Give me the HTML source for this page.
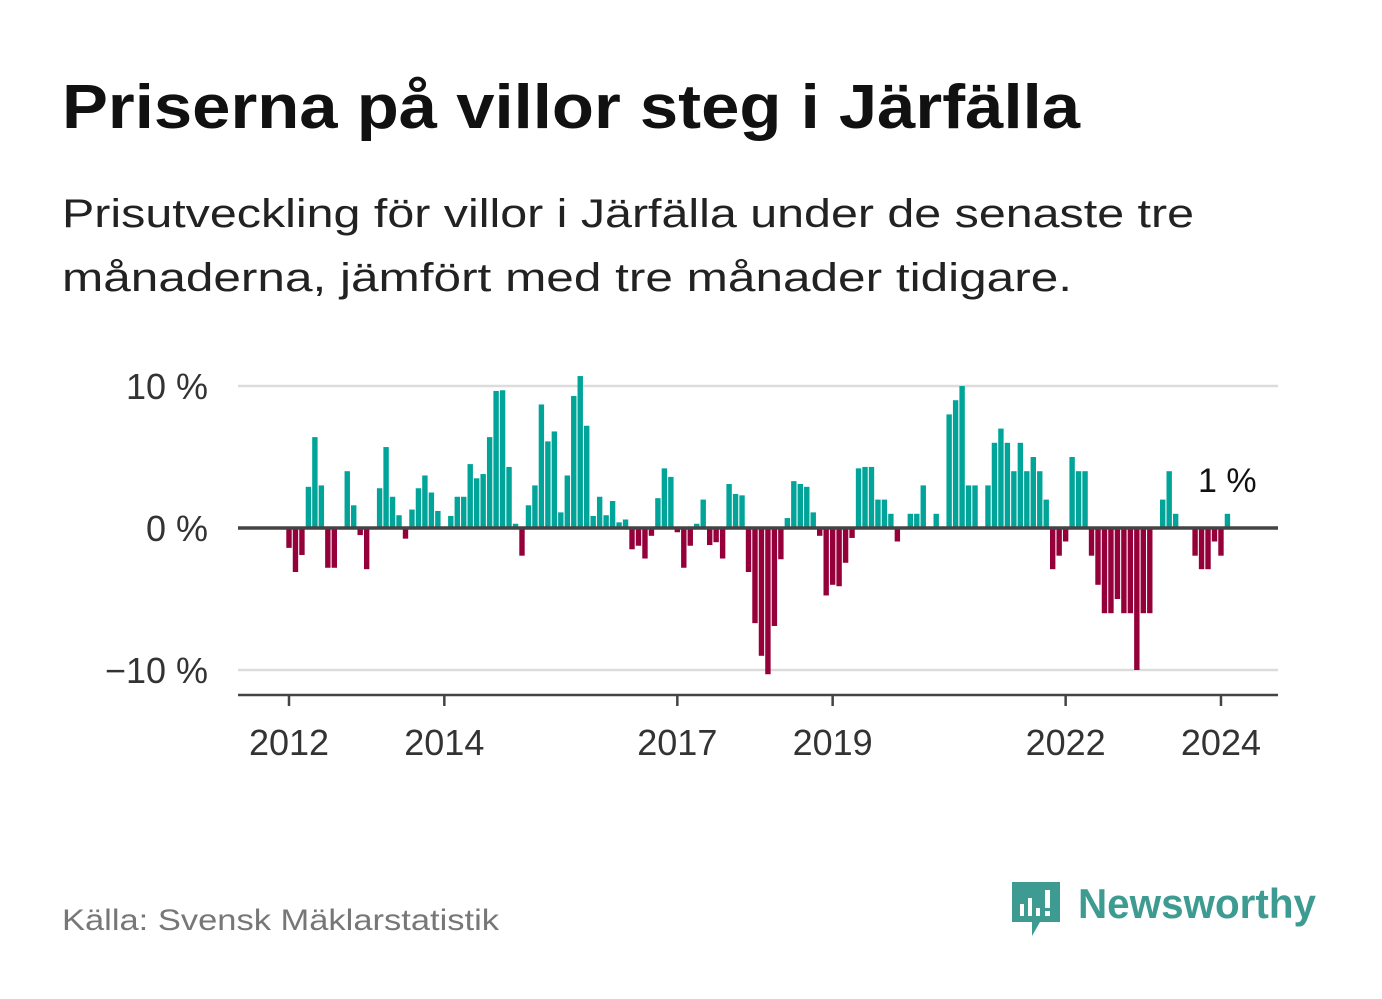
<!DOCTYPE html>
<html><head><meta charset="utf-8"><style>
html,body{margin:0;padding:0;background:#fff;}
svg{display:block;font-family:"Liberation Sans",sans-serif;}
</style></head><body>
<svg id="chart" width="1382" height="999" viewBox="0 0 1382 999" xmlns="http://www.w3.org/2000/svg">
<text x="62" y="128" font-size="62" font-weight="bold" fill="#111" textLength="1018" lengthAdjust="spacingAndGlyphs">Priserna på villor steg i Järfälla</text>
<text x="62" y="227" font-size="40" fill="#222" textLength="1132" lengthAdjust="spacingAndGlyphs">Prisutveckling för villor i Järfälla under de senaste tre</text>
<text x="62" y="291" font-size="40" fill="#222" textLength="1010" lengthAdjust="spacingAndGlyphs">månaderna, jämfört med tre månader tidigare.</text>
<g id="grid"></g>
<g id="bars"></g>
<g id="axes"></g>
<text x="1198" y="492" font-size="34" fill="#111">1 %</text>
<text x="62" y="930" font-size="30" fill="#777" textLength="437" lengthAdjust="spacingAndGlyphs">Källa: Svensk Mäklarstatistik</text>
<g>
<path d="M1012 882 h48 v40 h-20 l-8 14 l-0 -14 h-20 z" fill="#3d9b92"/>
<rect x="1020" y="904" width="4" height="12" fill="#fff"/>
<rect x="1028" y="898" width="4" height="18" fill="#fff"/>
<rect x="1036" y="908" width="4" height="8" fill="#fff"/>
<rect x="1045" y="890" width="5" height="18" fill="#fff"/>
<rect x="1045" y="911" width="5" height="5" fill="#fff"/>
<text x="1078" y="918" font-size="42" font-weight="bold" fill="#3d9b92" textLength="238" lengthAdjust="spacingAndGlyphs">Newsworthy</text>
</g>
</svg>
<script>
const values = [-1.4,-3.1,-1.9,2.9,6.4,3.0,-2.8,-2.8,0,4.0,1.6,-0.5,-2.9,0,2.8,5.7,2.2,0.9,-0.75,1.3,
2.8,3.7,2.5,1.2,0,0.85,2.2,2.2,4.5,3.5,3.8,6.4,9.65,9.7,4.3,0.3,-1.95,1.6,3.0,8.7,
6.1,6.8,1.1,3.7,9.3,10.7,7.2,0.85,2.2,0.9,1.9,0.4,0.6,-1.5,-1.25,-2.15,-0.55,2.1,4.2,3.6,
-0.3,-2.8,-1.25,0.3,2.0,-1.2,-1.0,-2.15,3.1,2.4,2.3,-3.1,-6.7,-9.0,-10.3,-6.9,-2.2,0.7,3.3,3.1,
2.9,1.1,-0.55,-4.75,-4.0,-4.1,-2.45,-0.7,4.2,4.3,4.3,2.0,2.0,1.0,-0.95,0,1.0,1.0,3.0,0,
1.0,0,8.0,9.0,10.0,3.0,3.0,0,3.0,6.0,7.0,6.0,4.0,6.0,4.0,5.0,4.0,2.0,-2.9,-1.95,
-0.95,5.0,4.0,4.0,-1.95,-4.0,-6.0,-6.0,-5.0,-6.0,-6.0,-10.0,-6.0,-6.0,0,2.0,4.0,1.0,0,0,
-1.95,-2.9,-2.9,-0.95,-1.95,1.0];
const yTicks = [10,0,-10];
const yTickLabels = ["10 %","0 %","\u221210 %"];
const xTickYears = [2012,2014,2017,2019,2022,2024];
const startYear = 2012;

const NS="http://www.w3.org/2000/svg";
const xIdx = i => 289 + i*6.472;
const y = v => 528 - v*14.2;
const grid=document.getElementById('grid'), bars=document.getElementById('bars'), axes=document.getElementById('axes');
function mk(tag, attrs, parent){const e=document.createElementNS(NS,tag);for(const k in attrs)e.setAttribute(k,attrs[k]);parent.appendChild(e);return e;}
yTicks.forEach((t,i)=>{
  if(t!==0){const l=mk('line',{x1:238,x2:1278,y1:y(t),y2:y(t),stroke:'#dcdcdc','stroke-width':2.5},grid);
  
  }
  const tx=mk('text',{x:208,y:y(t)+13,'font-size':36,fill:'#333','text-anchor':'end'},axes);
  tx.textContent=yTickLabels[i];
  
  
});
values.forEach((v,i)=>{
  if(v===0)return;
  const r=mk('rect',{x:xIdx(i)-2.7,width:5.4,y:Math.min(y(v),y(0)),height:Math.abs(y(v)-y(0)),fill:v>0?'#00a499':'#96003a'},bars);
  
  
});
const z=mk('line',{x1:238,x2:1278,y1:y(0),y2:y(0),stroke:'#444','stroke-width':3.5},axes);


const ax=mk('line',{x1:238,x2:1278,y1:695,y2:695,stroke:'#444','stroke-width':2.5},axes);


xTickYears.forEach(yr=>{
  const x=xIdx((yr-startYear)*12);
  const t=mk('line',{x1:x,x2:x,y1:695,y2:706,stroke:'#444','stroke-width':2.5},axes);
  
  
  const tx=mk('text',{x:x,y:755,'font-size':36,fill:'#333','text-anchor':'middle'},axes);
  tx.textContent=yr;
  
  
});
</script>
</body></html>
